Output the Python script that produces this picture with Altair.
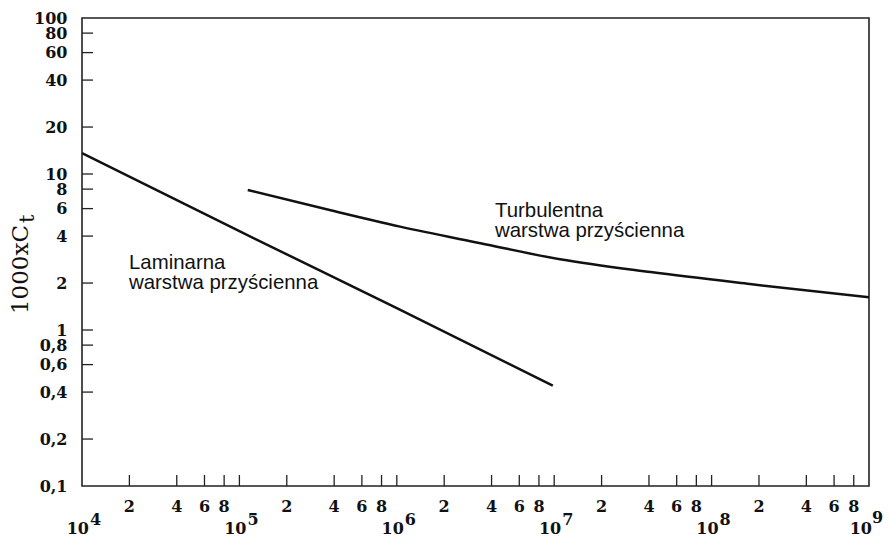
import altair as alt
import pandas as pd

# ---- data ----
lam_re = [1e4, 1e5, 1e6, 9.8e6]
lam_cf = [13.6, 4.3, 1.38, 0.44]

turb_re = [1.13e5, 3.8e5, 1.05e6, 3.4e6, 1.09e7, 4.1e7, 1.75e8, 1e9]
turb_cf = [7.9, 5.85, 4.6, 3.6, 2.84, 2.35, 1.97, 1.62]

y_label_values = [0.1, 0.2, 0.4, 0.6, 0.8, 1, 2, 4, 6, 8, 10, 20, 40, 60, 80, 100]
y_tick_values = [0.2, 0.4, 0.6, 0.8, 1, 2, 4, 6, 8, 10, 20, 40, 60, 80]

x_decade_exps = [4, 5, 6, 7, 8, 9]
x_mantissas = [2, 4, 6, 8]
x_inner_decades = [1e5, 1e6, 1e7, 1e8]

ann_turb = "Turbulentna\nwarstwa przyścienna"
ann_lam = "Laminarna\nwarstwa przyścienna"
y_title_main = "1000xC"
y_title_sub = "t"

# ---- tables ----
curves = pd.DataFrame(
    [{"series": "lam", "i": i, "re": r, "cf": c} for i, (r, c) in enumerate(zip(lam_re, lam_cf))]
    + [{"series": "turb", "i": i, "re": r, "cf": c} for i, (r, c) in enumerate(zip(turb_re, turb_cf))]
)
minor = pd.DataFrame(
    [{"re": m * 10 ** e, "lab": str(m)} for e in x_decade_exps[:-1] for m in x_mantissas]
)
xticks = pd.DataFrame({"re": list(minor["re"]) + x_inner_decades})
decades = pd.DataFrame({"re": [10.0 ** e for e in x_decade_exps],
                        "base": ["10"] * len(x_decade_exps),
                        "exp": [str(e) for e in x_decade_exps]})
dec_main = decades.iloc[:-1]
dec_last = decades.iloc[-1:]
yticks = pd.DataFrame({"cf": y_tick_values})

W, H = 787, 468
xscale = alt.Scale(type="log", domain=[1e4, 1e9], nice=False)
yscale = alt.Scale(type="log", domain=[0.1, 100], nice=False)
yaxis = alt.Axis(values=y_label_values, title=None, ticks=False, domain=False, grid=False,
                 labelExpr="replace(format(datum.value, '~g'), '.', ',')",
                 labelFont="DejaVu Serif", labelFontWeight="bold", labelFontSize=16,
                 labelColor="#111", labelPadding=15, labelOverlap=False, labelBound=False,
                 labelFlush=False)
Xf = alt.X("re:Q", scale=xscale, axis=None)
Yf = alt.Y("cf:Q", scale=yscale, axis=yaxis)

lines = alt.Chart(curves).mark_line(color="#111", strokeWidth=2.5, clip=True,
                                    interpolate="monotone").encode(
    x=Xf, y=Yf, detail="series:N", order="i:Q")

xtick_rules = alt.Chart(xticks).mark_rule(color="#222", strokeWidth=1.3).encode(
    x=Xf, y=alt.value(H), y2=alt.value(H - 11))

ytick_rules = alt.Chart(yticks).mark_rule(color="#222", strokeWidth=1.3).encode(
    y=Yf, x=alt.value(0), x2=alt.value(11))

lab_style = dict(font="DejaVu Serif", fontWeight="bold", fontSize=16, color="#111",
                 baseline="alphabetic")

minor_labels = alt.Chart(minor).mark_text(align="center", **lab_style).encode(
    x=Xf, y=alt.value(494), text="lab:N")

dec_base = alt.Chart(dec_main).mark_text(align="right", dx=7, **lab_style).encode(
    x=Xf, y=alt.value(516), text="base:N")
dec_exp = alt.Chart(dec_main).mark_text(align="left", dx=8, **lab_style).encode(
    x=Xf, y=alt.value(507), text="exp:N")
dec_base_last = alt.Chart(dec_last).mark_text(align="right", dx=3, **lab_style).encode(
    x=Xf, y=alt.value(516), text="base:N")
dec_exp_last = alt.Chart(dec_last).mark_text(align="left", dx=3, **lab_style).encode(
    x=Xf, y=alt.value(505), text="exp:N")

ann_df = pd.DataFrame({"t": [ann_turb, ann_lam], "k": ["turb", "lam"]})
ann_style = dict(font="Liberation Sans", fontSize=20.4, color="#111", align="left",
                 baseline="alphabetic", lineBreak="\n", lineHeight=20)
ann1 = alt.Chart(ann_df[ann_df.k == "turb"]).mark_text(**ann_style).encode(
    x=alt.value(413), y=alt.value(199), text="t:N")
ann2 = alt.Chart(ann_df[ann_df.k == "lam"]).mark_text(**ann_style).encode(
    x=alt.value(47), y=alt.value(251), text="t:N")

title_df = pd.DataFrame({"main": [y_title_main], "sub": [y_title_sub]})
ttl_main = alt.Chart(title_df).mark_text(
    font="DejaVu Serif", fontSize=23, color="#111", angle=270,
    align="right", baseline="alphabetic").encode(
    x=alt.value(-54), y=alt.value(207), text="main:N")
ttl_sub = alt.Chart(title_df).mark_text(
    font="DejaVu Serif", fontSize=21, color="#111", angle=270,
    align="left", baseline="alphabetic").encode(
    x=alt.value(-48), y=alt.value(205), text="sub:N")

chart = alt.layer(
    xtick_rules, ytick_rules, lines, minor_labels, dec_base, dec_exp,
    dec_base_last, dec_exp_last, ann1, ann2, ttl_main, ttl_sub
).properties(
    width=W, height=H,
    autosize=alt.AutoSizeParams(type="none"),
    padding={"left": 74, "top": 10, "right": 14, "bottom": 52},
    background="white",
).configure_view(stroke="#222", strokeWidth=1.6)

chart.save("out.html", embed_options={"renderer": "svg", "actions": False})
